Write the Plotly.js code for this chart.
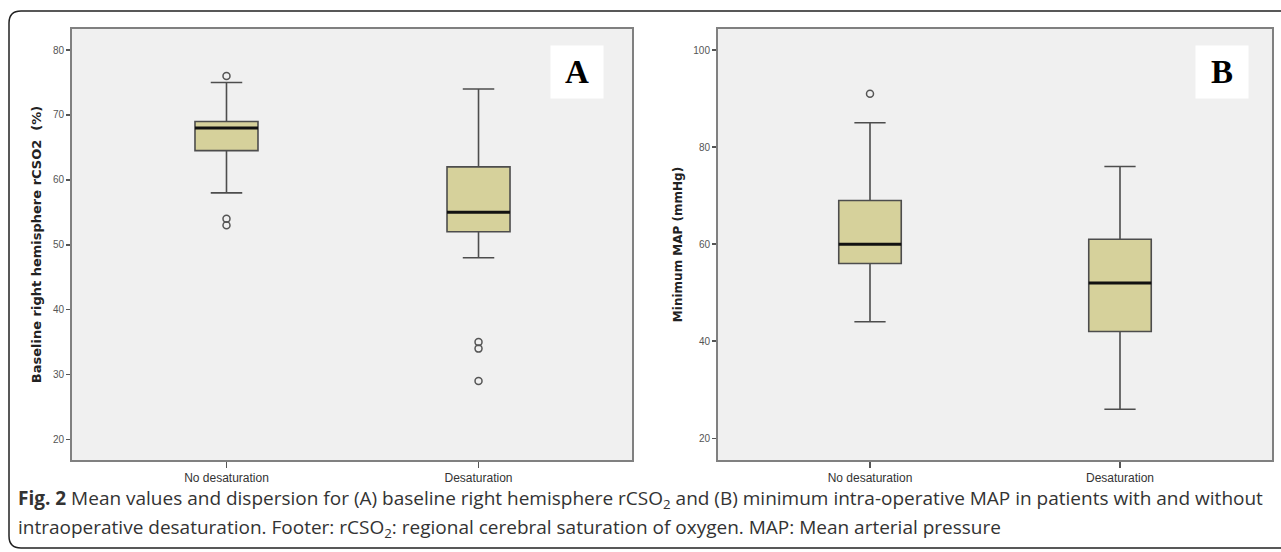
<!DOCTYPE html>
<html>
<head>
<meta charset="utf-8">
<script src="https://cdn.plot.ly/plotly-3.0.1.min.js"></script>
<style>
  html, body { margin: 0; padding: 0; background: #ffffff; }
  #chart { width: 1281px; height: 552px; }
</style>
</head>
<body>
<div id="chart"></div>
<script>
// ---- Data ----
const categories = ["No desaturation", "Desaturation"];

// Panel A: baseline right hemisphere rCSO2 (%)
const rcsoQ1       = [64.5, 52];
const rcsoMedian   = [68, 55];
const rcsoQ3       = [69, 62];
const rcsoLower    = [58, 48];
const rcsoUpper    = [75, 74];
const rcsoOutliers = [[76, 54, 53], [35, 34, 29]];

// Panel B: minimum MAP (mmHg)
const mapQ1       = [56, 42];
const mapMedian   = [60, 52];
const mapQ3       = [69, 61];
const mapLower    = [44, 26];
const mapUpper    = [85, 76];
const mapOutliers = [[91], []];

const yTicksA = [20, 30, 40, 50, 60, 70, 80];
const yTicksB = [20, 40, 60, 80, 100];

// ---- Styles ----
const W = 1281, H = 552;
const px = x => x / W;
const py = y => 1 - y / H;
const boxFill = "#d6d19b";
const boxLine = "#4d4d4d";
const boxWidth = 0.25;
const frameColor = "#808080";
const tickFont = {family: "Liberation Sans Narrow, Arial Narrow, Liberation Sans, sans-serif", size: 10, color: "#555555"};
const xTickFont = {family: "Liberation Sans Narrow, Arial Narrow, Liberation Sans, sans-serif", size: 12, color: "#333333"};
const titleFontA = {family: "DejaVu Sans, Verdana, sans-serif", size: 13, color: "#222222", weight: "bold"};
const titleFontB = {family: "DejaVu Sans, Verdana, sans-serif", size: 12, color: "#222222", weight: "bold"};

function panelTraces(q1, med, q3, lo, hi, outl, xa, ya) {
  const tr = [];
  categories.forEach((c, i) => {
    tr.push({
      type: "box", x: [i], q1: [q1[i]], median: [med[i]], q3: [q3[i]],
      lowerfence: [lo[i]], upperfence: [hi[i]],
      width: boxWidth, whiskerwidth: 0.5,
      fillcolor: boxFill, line: {color: boxLine, width: 1.6},
      boxpoints: false, hoverinfo: "skip", showlegend: false,
      xaxis: xa, yaxis: ya, name: c
    });
    tr.push({
      type: "scatter", mode: "lines",
      x: [i - boxWidth / 2, i + boxWidth / 2], y: [med[i], med[i]],
      line: {color: "#111111", width: 3}, hoverinfo: "skip", showlegend: false,
      xaxis: xa, yaxis: ya
    });
    if (outl[i].length) {
      tr.push({
        type: "scatter", mode: "markers",
        x: outl[i].map(() => i), y: outl[i],
        marker: {symbol: "circle-open", size: 7, color: "#555555", line: {width: 1.5, color: "#555555"}},
        hoverinfo: "skip", showlegend: false, xaxis: xa, yaxis: ya
      });
    }
  });
  return tr;
}

const data = [].concat(
  panelTraces(rcsoQ1, rcsoMedian, rcsoQ3, rcsoLower, rcsoUpper, rcsoOutliers, "x", "y"),
  panelTraces(mapQ1, mapMedian, mapQ3, mapLower, mapUpper, mapOutliers, "x2", "y2")
);

function xAxis(domain, anchor, range) {
  return {
    domain: domain, anchor: anchor, range: range,
    tickmode: "array", tickvals: [0, 1], ticktext: categories,
    ticks: "outside", ticklen: 6, tickwidth: 1.5, tickcolor: "#555555",
    tickfont: xTickFont, showgrid: false, zeroline: false,
    showline: true, mirror: true, linecolor: frameColor, linewidth: 2,
    fixedrange: true
  };
}
function yAxis(domain, anchor, range, ticks, title, font, standoff) {
  return {
    domain: domain, anchor: anchor, range: range,
    tickmode: "array", tickvals: ticks,
    ticks: "outside", ticklen: 4, tickwidth: 1.5, tickcolor: "#555555",
    tickfont: tickFont, showgrid: false, zeroline: false,
    showline: true, mirror: true, linecolor: frameColor, linewidth: 2,
    title: {text: title, font: font, standoff: standoff},
    automargin: false, fixedrange: true
  };
}

const yDom = [py(460), py(29)];
const layout = {
  width: W, height: H,
  margin: {l: 0, r: 0, t: 0, b: 0},
  paper_bgcolor: "#ffffff",
  plot_bgcolor: "#f0f0f0",
  showlegend: false,
  xaxis: xAxis([px(72), px(632)], "y", [-0.613, 1.609]),
  yaxis: yAxis(yDom, "x", [16.84, 83.24], yTicksA, "Baseline right hemisphere rCSO2  (%)", titleFontA, 8),
  xaxis2: xAxis([px(718), px(1272)], "y2", [-0.608, 1.608]),
  yaxis2: yAxis(yDom, "x2", [15.53, 104.33], yTicksB, "Minimum MAP (mmHg)", titleFontB, 8),
  shapes: [
    {
      type: "path", xref: "paper", yref: "paper",
      path: `M ${px(1300)} ${py(11)} L ${px(21)} ${py(11)} Q ${px(9)} ${py(11)} ${px(9)} ${py(23)} ` +
            `L ${px(9)} ${py(536)} Q ${px(9)} ${py(548)} ${px(21)} ${py(548)} L ${px(1300)} ${py(548)}`,
      line: {color: "#222222", width: 1.5}
    }
  ],
  annotations: [
    {
      xref: "paper", yref: "paper", x: px(577), y: py(72), xanchor: "center", yanchor: "middle",
      text: "<b>A</b>", showarrow: false, bgcolor: "#ffffff", width: 50, height: 50,
      font: {family: "Liberation Serif, Times New Roman, serif", size: 33, color: "#000000"}
    },
    {
      xref: "paper", yref: "paper", x: px(1222), y: py(72), xanchor: "center", yanchor: "middle",
      text: "<b>B</b>", showarrow: false, bgcolor: "#ffffff", width: 50, height: 50,
      font: {family: "Liberation Serif, Times New Roman, serif", size: 33, color: "#000000"}
    },
    {
      xref: "paper", yref: "paper", x: px(16), y: py(499), xanchor: "left", yanchor: "middle",
      showarrow: false, align: "left",
      text: "<b>Fig. 2</b> Mean values and dispersion for (A) baseline right hemisphere rCSO<sub>2</sub> and (B) minimum intra-operative MAP in patients with and without",
      font: {family: "Open Sans, Noto Sans, sans-serif", size: 19, color: "#333333"}
    },
    {
      xref: "paper", yref: "paper", x: px(16), y: py(528), xanchor: "left", yanchor: "middle",
      showarrow: false, align: "left",
      text: "intraoperative desaturation. Footer: rCSO<sub>2</sub>: regional cerebral saturation of oxygen. MAP: Mean arterial pressure",
      font: {family: "Open Sans, Noto Sans, sans-serif", size: 19, color: "#333333"}
    }
  ]
};

Plotly.newPlot("chart", data, layout, {displayModeBar: false, staticPlot: true});
</script>
</body>
</html>
